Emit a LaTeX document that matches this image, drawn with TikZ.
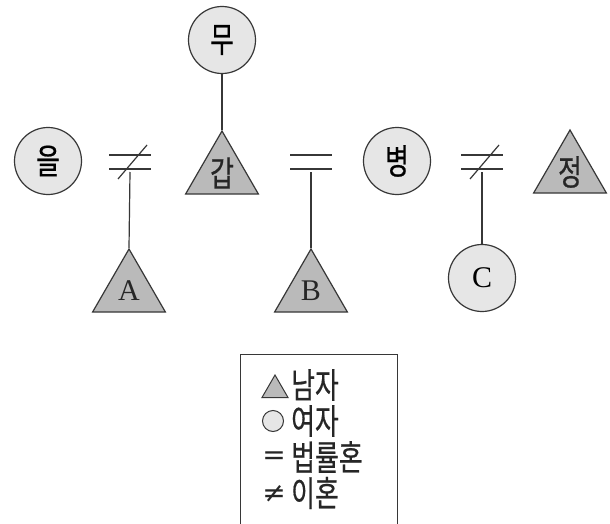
\documentclass[tikz,border=0pt]{standalone}
\usepackage{fontspec}
\usepackage{graphicx}
\setmainfont{Liberation Serif}
\newfontfamily\kr[FakeBold=0.6]{Noto Sans CJK KR}
\newfontfamily\symf{DejaVu Sans}
\usetikzlibrary{shapes.geometric}
\definecolor{edge}{RGB}{55,55,55}
\definecolor{trifill}{RGB}{186,186,186}
\definecolor{cirfill}{RGB}{230,230,230}
\newcommand{\kl}[1]{\scalebox{0.74}[1]{\kr\fontsize{35}{35}\selectfont #1}}
\newcommand{\klsym}[1]{{\symf\fontsize{28}{28}\selectfont #1}}
\newcommand{\latinlab}[1]{{\fontsize{30}{30}\selectfont #1}}
\tikzset{
  fem/.style={circle, draw=edge, fill=cirfill, line width=1.2pt, minimum size=67pt, inner sep=0pt},
  male/.style={regular polygon, regular polygon sides=3, draw=edge, fill=trifill, line width=1.2pt, minimum size=84pt, inner sep=0pt},
  lab/.style={inner sep=0pt, text=black!85},
  link/.style={draw=edge, line width=1.2pt},
  eqmark/.pic={
    \draw[link] (-21,-7) -- (21,-7);
    \draw[link] (-21,7) -- (21,7);
    \coordinate (-bot) at (0,10);
  },
  divmark/.pic={
    \draw[link] (-21,-7) -- (21,-7);
    \draw[link] (-21,7) -- (21,7);
    \draw[link] (-12,17) -- (17,-17);
    \coordinate (-bot) at (0,10);
  }
}
\begin{document}
\begin{tikzpicture}[x=1pt,y=-1pt]
\useasboundingbox[fill=white] (0,0) rectangle (610,524);
% persons
\node[fem] (mu) at (222,40) {\kl{무}};
\node[fem] (eul) at (48,161) {\kl{을}};
\node[male] (gap) at (222,173) {};
\node[lab] (gapl) at (gap.center) {\kl{갑}};
\node[fem] (byeong) at (397,161) {\kl{병}};
\node[male] (jeong) at (570,172) {};
\node[lab] (jeongl) at (jeong.center) {\kl{정}};
\node[male] (A) at (129,291) {};
\node[lab] (Al) at (A.center) {\latinlab{A}};
\node[male] (B) at (311,291) {};
\node[lab] (Bl) at (B.center) {\latinlab{B}};
\node[fem] (C) at (482,278) {\latinlab{C}};
% marriage marks
\pic (d1) at (130,162) {divmark};
\pic (e1) at (311,162) {eqmark};
\pic (d2) at (482,162) {divmark};
% connectors
\draw[link] (mu) -- (gap.corner 1);
\draw[link] (d1-bot) -- (A.corner 1);
\draw[link] (e1-bot) -- (B.corner 1);
\draw[link] (d2-bot) -- (C);
% legend
\node[draw=edge, line width=1pt, minimum width=157pt, minimum height=200pt, anchor=north west, inner sep=0pt] (legend) at (240,354) {};
\node[regular polygon, regular polygon sides=3, minimum size=30pt, inner sep=0pt, fill=trifill, draw=edge, line width=1pt] (lt) at (275,390) {};
\node[circle, minimum size=21pt, inner sep=0pt, fill=cirfill, draw=edge, line width=1pt] (lc) at (273,421) {};
\node[lab] (leq) at (274,458) {\klsym{=}};
\node[lab] (lne) at (274,494) {\klsym{≠}};
\node[lab, anchor=west] (t1) at (291,385) {\kl{남자}};
\node[lab, anchor=west] (t2) at (291,421) {\kl{여자}};
\node[lab, anchor=west] (t3) at (291,457) {\kl{법률혼}};
\node[lab, anchor=west] (t4) at (291,493) {\kl{이혼}};
\end{tikzpicture}
\end{document}
